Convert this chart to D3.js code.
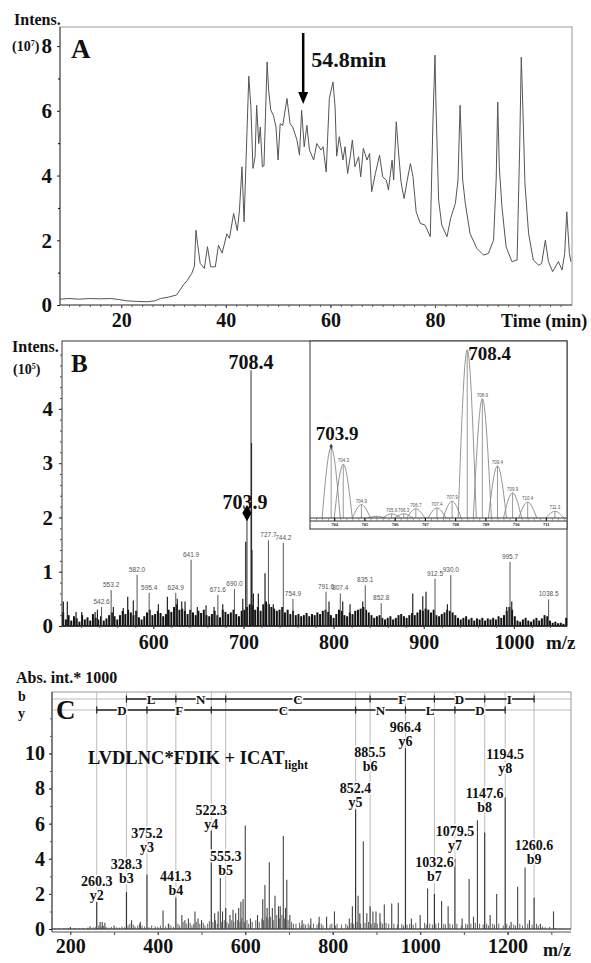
<!DOCTYPE html>
<html>
<head>
<meta charset="utf-8">
<script src="https://cdn.jsdelivr.net/npm/d3@7"></script>
<style>
body { margin: 0; background: #fff; }
svg text { font-family: "Liberation Serif", "Times New Roman", serif; font-weight: bold; fill: #111; }
svg text.tiny { font-family: "Liberation Sans", Arial, sans-serif; font-weight: normal; fill: #555; }
</style>
</head>
<body>
<svg width="591" height="963"></svg>
<script>
// ---------- data ----------

// A: total ion chromatogram, time (min) / intensity (10^7)
var ticTime = [8.3,10,12,14,16,18,19.5,21,23,25,26.5,27.5,29,30.6,31.9,32.6,33.5,34.0,34.3,34.6,35.1,35.9,36.5,37.1,38.0,38.6,39.3,40.2,40.7,41.5,42.2,42.6,43.1,43.5,44.0,44.4,44.8,45.2,45.6,45.9,46.3,46.6,47.0,47.3,47.9,48.2,48.6,49.1,49.6,50.0,50.4,50.9,51.7,52.3,52.8,53.6,54.1,54.5,55.0,55.5,56.0,56.8,57.4,58.2,58.6,59.2,59.8,60.5,60.9,61.2,61.7,62.4,62.8,63.3,63.8,64.2,64.7,65.4,65.8,66.3,67.0,67.5,67.9,68.6,69.4,70.0,70.7,71.1,71.8,72.1,72.6,73.0,73.5,74.1,74.7,75.3,75.8,76.4,77.2,78.1,79.1,79.6,80.0,80.2,80.7,81.3,82.3,83.0,83.9,84.4,84.8,85.3,85.8,86.7,88.0,89.3,90.2,91.2,91.7,92.0,92.3,92.8,93.6,94.7,95.7,96.2,96.5,96.8,97.2,97.9,98.8,99.8,100.4,101.1,101.7,102.5,103.6,104.3,104.8,105.2,105.7,106];
var ticInt = [0.18,0.2,0.18,0.2,0.19,0.2,0.17,0.13,0.11,0.1,0.13,0.2,0.24,0.31,0.62,0.75,0.98,1.2,2.31,1.9,1.29,1.13,1.8,1.18,1.18,1.85,1.6,2.2,2.06,2.83,2.3,2.9,4.27,2.57,5.1,7.07,6.12,4.22,4.58,6.17,4.99,5.5,4.27,4.3,7.51,6.64,6.02,5.86,5.5,4.48,5.6,5.55,6.38,5.6,5.5,5.1,4.63,6.02,4.89,5.55,4.79,4.48,4.99,4.79,4.89,4.11,6.38,6.89,6.12,4.6,5.2,4.48,4.89,4.06,4.58,5.1,4.27,4.58,3.96,4.84,4.48,4.68,3.5,4.06,4.63,3.96,3.86,3.55,4.48,3.86,5.66,4.79,3.81,3.29,3.86,4.37,3.96,2.88,2.52,2.47,2.11,5.6,7.72,6.12,3.24,2.47,2.11,2.68,3.14,3.86,6.17,3.86,3.14,2.21,1.75,1.54,1.59,2.0,3.86,6.27,4.27,3.04,1.8,1.34,1.39,4.89,7.66,6.12,3.76,2.21,1.39,1.23,1.28,2.0,1.34,1.03,1.34,1.08,1.59,2.88,1.59,1.34];
var aXTicks = [20, 40, 60, 80];
var aYTicks = [0, 2, 4, 6, 8];
var markTime = 54.8;

// B: full MS spectrum, m/z / intensity (10^5)
var msMain = [[703.9, 2.08], [708.4, 4.71]];
var msLabeled = [[542.6,.35],[553.2,.66],[582.0,.94],[595.4,.61],[624.9,.61],[641.9,1.22],[671.6,.57],[690.0,.68],[727.7,1.58],[744.2,1.53],[754.9,.5],[791.6,.63],[807.4,.6],[835.1,.75],[852.8,.42],[912.5,.87],[930.0,.94],[995.7,1.18],[1038.5,.49]];
var msOther = [[500.2,.45],[504.6,.45],[514.3,.26],[520.6,.26],[535.4,.26],[538,.3],[555.7,.35],[566.7,.33],[571.6,.54],[577.8,.47],[605.6,.4],[615.6,.54],[626.6,.5],[631.5,.45],[635.2,.45],[648.8,.35],[658.5,.38],[667.4,.35],[677,.4],[699.2,.5],[702.5,1.55],[708.9,3.37],[709.4,1.4],[711,.6],[716.5,.6],[723.9,.97],[728.7,.4],[733.1,.4],[794.9,.45],[810.1,.45],[818.2,.4],[832.3,.45],[887.8,.6],[898.9,.55],[902.5,.63],[926.2,.4],[992,.35],[997.6,.45]];
var msGrass = [[500,.25],[503,.12],[506,.2],[509,.1],[512,.18],[515,.14],[518,.08],[521,.2],[524,.12],[527,.16],[530,.1],[533,.22],[536,.15],[539,.12],[542,.18],[545,.1],[548,.14],[551,.2],[554,.25],[557,.18],[560,.12],[563,.2],[566,.28],[569,.22],[572,.3],[575,.25],[578,.2],[581,.28],[584,.16],[587,.12],[590,.18],[593,.25],[596,.3],[599,.2],[602,.22],[605,.28],[608,.24],[611,.18],[614,.22],[617,.3],[620,.26],[623,.35],[626,.4],[629,.3],[632,.32],[635,.28],[638,.22],[641,.3],[644,.25],[647,.2],[650,.28],[653,.24],[656,.3],[659,.2],[662,.18],[665,.22],[668,.28],[671,.2],[674,.16],[677,.3],[680,.26],[683,.22],[686,.25],[689,.3],[692,.22],[695,.18],[698,.28],[701,.3],[704,.35],[707,.4],[710,.38],[713,.3],[716,.35],[719,.28],[722,.4],[725,.45],[728,.4],[731,.35],[734,.32],[737,.28],[740,.3],[743,.35],[746,.25],[749,.3],[752,.22],[755,.28],[758,.2],[761,.22],[764,.18],[767,.2],[770,.24],[773,.18],[776,.22],[779,.2],[782,.25],[785,.22],[788,.28],[791,.3],[794,.26],[797,.2],[800,.15],[803,.22],[806,.3],[809,.28],[812,.2],[815,.18],[818,.25],[821,.22],[824,.28],[827,.3],[830,.32],[833,.35],[836,.3],[839,.25],[842,.2],[845,.15],[848,.18],[851,.2],[854,.15],[857,.12],[860,.15],[863,.18],[866,.12],[869,.15],[872,.2],[875,.22],[878,.18],[881,.15],[884,.2],[887,.24],[890,.2],[893,.25],[896,.3],[899,.28],[902,.32],[905,.3],[908,.25],[911,.3],[914,.2],[917,.18],[920,.22],[923,.25],[926,.3],[929,.28],[932,.25],[935,.2],[938,.15],[941,.12],[944,.15],[947,.18],[950,.12],[953,.15],[956,.1],[959,.14],[962,.12],[965,.15],[968,.1],[971,.14],[974,.12],[977,.15],[980,.12],[983,.18],[986,.15],[989,.2],[992,.28],[995,.35],[998,.3],[1001,.18],[1004,.1],[1007,.08],[1010,.12],[1013,.15],[1016,.1],[1019,.08],[1022,.12],[1025,.15],[1028,.1],[1031,.14],[1034,.2],[1037,.18],[1040,.1],[1043,.06],[1046,.08],[1049,.05],[1052,.06],[1055,.04],[1058,.15]];
var bXTicks = [600, 700, 800, 900, 1000];
var bYTicks = [0, 1, 2, 3, 4];

// B inset: isotope cluster, m/z / relative intensity (%)
var isoMz = [703.9,704.3,704.9,705.4,705.9,706.3,706.7,707.4,707.9,708.4,708.9,709.4,709.9,710.4,711.3];
var isoInt = [42,32,8,1,2.5,2.5,5.5,6,10,100,71,31,15,9.5,4];
var isoTicks = [704, 705, 706, 707, 708, 709, 710, 711];

// C: MS/MS spectrum, m/z / abs. intensity (x1000)
var ionMz = [260.3,328.3,375.2,441.3,522.3,555.3,852.4,885.5,966.4,1032.6,1079.5,1147.6,1194.5,1260.6];
var ionName = ["y2","b3","y3","b4","y4","b5","y5","b6","y6","b7","y7","b8","y8","b9"];
var ionInt = [1.55,2.1,3.1,1.8,5.6,1.2,6.8,1.3,10.3,2.0,4.0,5.5,7.5,1.8];
var ionLabelAt = [1.55,2.5,4.3,1.8,5.6,2.95,6.85,8.9,10.3,2.6,4.4,6.55,8.8,3.6];
var bLadder = [328.3,441.3,555.3,885.5,1032.6,1147.6,1260.6];
var bResidues = ["L","N","C","F","D","I"];
var yLadder = [260.3,375.2,522.3,852.4,966.4,1079.5,1194.5];
var yResidues = ["D","F","C","N","L","D"];
var msmsOther = [[200,.12],[245,.15],[268,.4],[273,.4],[279,.35],[300,.2],[340,.5],[360,.4],[412,1.05],[425,.3],[455,.8],[462,.5],[470,.6],[485,1.0],[492,.6],[500,.5],[530,.9],[538,1.0],[543,2.9],[548,1.0],[565,.8],[572,1.1],[578,.9],[585,1.2],[590,1.55],[595,1.7],[600,5.9],[612,.6],[628,.8],[640,1.7],[645,2.5],[650,1.2],[655,3.8],[662,1.2],[668,1.9],[676,1.3],[680,1.3],[687,5.3],[692,1.2],[695,2.8],[702,.8],[730,.5],[750,.6],[769,.7],[786,.7],[804,1.0],[838,.6],[845,1.3],[858,1.9],[862,.9],[870,5.0],[878,.9],[892,1.0],[899,1.0],[908,.9],[918,1.4],[935,1.45],[950,1.5],[980,.6],[1000,.8],[1017,2.3],[1049,1.6],[1064,1.3],[1096,.6],[1112,2.85],[1122,.7],[1131,6.2],[1160,.8],[1175,2.0],[1208,.4],[1223,2.4],[1240,3.5],[1250,.5],[1275,.3],[1305,1.0]];
var msmsGrass = [[165,.04],[175,.05],[185,.04],[195,.06],[210,.05],[220,.04],[230,.06],[240,.08],[252,.1],[258,.12],[265,.2],[270,.15],[276,.18],[282,.1],[288,.08],[294,.12],[306,.1],[312,.08],[318,.15],[324,.1],[332,.2],[336,.3],[344,.25],[348,.15],[354,.2],[358,.3],[364,.2],[370,.15],[380,.1],[386,.2],[394,.15],[400,.12],[406,.2],[418,.15],[424,.3],[430,.2],[436,.12],[446,.3],[450,.2],[458,.4],[466,.3],[474,.35],[478,.2],[482,.3],[488,.4],[496,.3],[504,.35],[508,.2],[514,.3],[518,.45],[526,.4],[532,.5],[536,.3],[546,.4],[552,.5],[558,.4],[562,.3],[568,.5],[574,.4],[582,.5],[588,.4],[592,.6],[598,.4],[604,.5],[608,.3],[616,.4],[624,.5],[632,.4],[638,.6],[642,.5],[648,.7],[652,.6],[658,.7],[664,.5],[672,.8],[678,.6],[684,.8],[690,.6],[698,.5],[706,.4],[710,.3],[716,.3],[724,.35],[728,.2],[734,.3],[738,.25],[744,.3],[748,.2],[756,.3],[764,.25],[768,.35],[774,.3],[778,.2],[786,.3],[794,.25],[798,.3],[806,.2],[810,.3],[820,.25],[830,.3],[834,.2],[842,.35],[848,.3],[856,.4],[864,.3],[874,.35],[882,.4],[888,.3],[896,.35],[902,.3],[910,.4],[914,.3],[922,.35],[928,.3],[940,.3],[948,.25],[958,.3],[962,.2],[970,.25],[976,.3],[984,.25],[990,.35],[1010,.35],[1014,.25],[1022,.3],[1028,.25],[1036,.3],[1042,.35],[1054,.3],[1058,.25],[1068,.3],[1074,.25],[1084,.3],[1094,.2],[1104,.3],[1108,.25],[1116,.3],[1126,.35],[1136,.3],[1144,.25],[1152,.3],[1156,.2],[1166,.3],[1170,.25],[1180,.3],[1190,.2],[1198,.3],[1204,.2],[1214,.25],[1218,.2],[1228,.3],[1234,.2],[1246,.3],[1256,.25],[1266,.3],[1270,.2],[1280,.15],[1286,.1],[1296,.12],[1310,.06],[1320,.04]];
var cXTicks = [200, 400, 600, 800, 1000, 1200];
var cYTicks = [0, 2, 4, 6, 8, 10];

// ---------- drawing ----------
var svg = d3.select("svg");
var fmt = d3.format("d");

function styleAxis(g, size) {
    g.attr("font-family", '"Liberation Serif", "Times New Roman", serif')
     .attr("font-size", size)
     .attr("font-weight", "bold");
    g.select(".domain").remove();
    g.selectAll(".tick line").attr("stroke", "#222");
    g.selectAll(".tick text").attr("fill", "#111");
}

function sticks(g, data, x, y, color, width) {
    g.selectAll(null)
      .data(data)
      .enter().append("line")
      .attr("x1", d => x(d[0])).attr("x2", d => x(d[0]))
      .attr("y1", y(0)).attr("y2", d => y(d[1]))
      .attr("stroke", color)
      .attr("stroke-width", width);
}

// ===== panel A =====
var xA = d3.scaleLinear().domain([8.3, 106.2]).range([60, 572]),
    yA = d3.scaleLinear().domain([0, 8.59]).range([305, 27]);

svg.append("rect")
    .attr("x", 60).attr("y", 27).attr("width", 512).attr("height", 278)
    .attr("fill", "none").attr("stroke", "#999");
svg.append("line").attr("x1", 60).attr("x2", 60).attr("y1", 27).attr("y2", 305).attr("stroke", "#444");
svg.append("line").attr("x1", 60).attr("x2", 572).attr("y1", 305).attr("y2", 305).attr("stroke", "#555");

var aLeft = svg.append("g").attr("transform", "translate(60,0)")
    .call(d3.axisLeft(yA).tickValues(aYTicks).tickFormat(fmt).tickSize(3).tickPadding(5));
styleAxis(aLeft, 21);
svg.append("g").attr("transform", "translate(60,0)")
    .call(d3.axisLeft(yA).tickValues([1, 3, 5, 7]).tickSize(2).tickFormat(""))
    .call(g => g.select(".domain").remove());

var aBottom = svg.append("g").attr("transform", "translate(0,305)")
    .call(d3.axisBottom(xA).tickValues(aXTicks).tickFormat(fmt).tickSize(3).tickPadding(5));
styleAxis(aBottom, 20);
svg.append("g").attr("transform", "translate(0,305)")
    .call(d3.axisBottom(xA).tickValues(d3.range(10, 106, 2)).tickSize(2).tickFormat(""))
    .call(g => g.select(".domain").remove())
    .selectAll("line").attr("stroke", "#555");

var ticLine = d3.line()
    .x((d, i) => xA(ticTime[i]))
    .y(d => yA(d));
svg.append("path")
    .datum(ticInt)
    .attr("d", ticLine)
    .attr("fill", "none")
    .attr("stroke", "#555")
    .attr("stroke-width", 1);

// arrow at 54.8 min
var ax = xA(markTime);
svg.append("line").attr("x1", ax).attr("x2", ax).attr("y1", 33).attr("y2", 94)
    .attr("stroke", "#000").attr("stroke-width", 2.5);
svg.append("path")
    .attr("d", "M" + (ax - 5) + ",92L" + (ax + 5) + ",92L" + ax + ",104Z")
    .attr("fill", "#000");
svg.append("text").attr("x", ax + 8).attr("y", 67).style("font-size", "22px").text(markTime + "min");

svg.append("text").attr("x", 71).attr("y", 58).style("font-size", "27px").text("A");
svg.append("text").attr("x", 14).attr("y", 25).style("font-size", "16px").text("Intens.");
var a10 = svg.append("text").attr("x", 12).attr("y", 51).style("font-size", "14px");
a10.append("tspan").text("(10");
a10.append("tspan").attr("dy", -5).style("font-size", "8px").text("7");
a10.append("tspan").attr("dy", 5).text(")");
svg.append("text").attr("x", 501).attr("y", 327).style("font-size", "18px").text("Time (min)");

// ===== panel B =====
var xB = d3.scaleLinear().domain([498.7, 1058.9]).range([62, 567]),
    yB = d3.scaleLinear().domain([0, 5.25]).range([626, 341]);

svg.append("rect")
    .attr("x", 62).attr("y", 341).attr("width", 505).attr("height", 285)
    .attr("fill", "none").attr("stroke", "#333");

var gB = svg.append("g");
sticks(gB, msGrass, xB, yB, "#111", 2);
sticks(gB, msOther, xB, yB, "#222", 1.2);
sticks(gB, msLabeled, xB, yB, "#555", 1);
sticks(gB, msMain, xB, yB, "#333", 1);

gB.selectAll(null)
  .data(msLabeled)
  .enter().append("text")
  .attr("class", "tiny")
  .attr("x", d => xB(d[0]))
  .attr("y", d => yB(d[1]) - 3)
  .attr("text-anchor", "middle")
  .style("font-size", "6.5px")
  .text(d => d[0].toFixed(1));

svg.append("path")
    .attr("d", d3.symbol().type(d3.symbolDiamond).size(75)())
    .attr("transform", "translate(" + xB(msMain[0][0]) + "," + yB(msMain[0][1]) + ")")
    .attr("fill", "#000");
svg.append("text").attr("x", xB(msMain[0][0]) - 2).attr("y", yB(msMain[0][1]) - 4)
    .attr("text-anchor", "middle").style("font-size", "20px").text(msMain[0][0].toFixed(1));
svg.append("text").attr("x", xB(msMain[1][0])).attr("y", yB(msMain[1][1]) - 1)
    .attr("text-anchor", "middle").style("font-size", "20px").text(msMain[1][0].toFixed(1));

svg.append("line").attr("x1", 62).attr("x2", 567).attr("y1", 626).attr("y2", 626).attr("stroke", "#222").attr("stroke-width", 1.5);

var bLeft = svg.append("g").attr("transform", "translate(62,0)")
    .call(d3.axisLeft(yB).tickValues(bYTicks).tickFormat(fmt).tickSize(3).tickPadding(6));
styleAxis(bLeft, 21);
svg.append("g").attr("transform", "translate(62,0)")
    .call(d3.axisLeft(yB).tickValues(d3.range(0.2, 5.2, 0.2)).tickSize(2).tickFormat(""))
    .call(g => g.select(".domain").remove())
    .selectAll("line").attr("stroke", "#555");
var bBottom = svg.append("g").attr("transform", "translate(0,626)")
    .call(d3.axisBottom(xB).tickValues(bXTicks).tickFormat(fmt).tickSize(3).tickPadding(6));
styleAxis(bBottom, 20);
svg.append("g").attr("transform", "translate(0,626)")
    .call(d3.axisBottom(xB).tickValues(d3.range(520, 1060, 20)).tickSize(2).tickFormat(""))
    .call(g => g.select(".domain").remove())
    .selectAll("line").attr("stroke", "#555");

svg.append("text").attr("x", 71).attr("y", 372).style("font-size", "25px").text("B");
svg.append("text").attr("x", 12).attr("y", 352).style("font-size", "16px").text("Intens.");
var b10 = svg.append("text").attr("x", 13).attr("y", 374).style("font-size", "14px");
b10.append("tspan").text("(10");
b10.append("tspan").attr("dy", -5).style("font-size", "8px").text("5");
b10.append("tspan").attr("dy", 5).text(")");
svg.append("text").attr("x", 546).attr("y", 649).style("font-size", "19px").text("m/z");

// ----- inset -----
var xI = d3.scaleLinear().domain([703.2, 711.7]).range([310, 567]),
    yI = d3.scaleLinear().domain([0, 100]).range([518, 350]);

svg.append("rect")
    .attr("x", 310).attr("y", 341).attr("width", 257).attr("height", 188)
    .attr("fill", "#fff").attr("stroke", "#333");

var peakShape = d3.line()
    .x(d => xI(d[0]))
    .y(d => yI(d[1]))
    .curve(d3.curveMonotoneX);
var gI = svg.append("g");
isoMz.forEach(function(m, i) {
    gI.append("path")
      .datum([[m - 0.3, 0], [m, isoInt[i]], [m + 0.3, 0]])
      .attr("d", peakShape)
      .attr("fill", "none")
      .attr("stroke", "#888")
      .attr("stroke-width", 0.9);
    gI.append("line")
      .attr("x1", xI(m)).attr("x2", xI(m))
      .attr("y1", yI(0)).attr("y2", yI(isoInt[i]))
      .attr("stroke", "#999").attr("stroke-width", 1);
    if (m !== 703.9 && m !== 708.4 && m !== 705.4) {
        gI.append("text")
          .attr("class", "tiny")
          .attr("x", xI(m)).attr("y", yI(isoInt[i]) - 2)
          .attr("text-anchor", "middle")
          .style("font-size", "4.5px")
          .text(m.toFixed(1));
    }
});
svg.append("path")
    .attr("d", d3.symbol().type(d3.symbolDiamond).size(10)())
    .attr("transform", "translate(" + xI(703.9) + "," + (yI(42) - 1) + ")")
    .attr("fill", "#444");
svg.append("text").attr("x", xI(703.9) + 6).attr("y", yI(42) - 7)
    .attr("text-anchor", "middle").style("font-size", "19px").text("703.9");
svg.append("text").attr("x", xI(708.4) + 1).attr("y", yI(100) + 10)
    .style("font-size", "19px").text("708.4");

svg.append("line").attr("x1", 310).attr("x2", 567).attr("y1", 518).attr("y2", 518).attr("stroke", "#333");
svg.append("line").attr("x1", 310).attr("x2", 567).attr("y1", 521).attr("y2", 521).attr("stroke", "#333");
svg.append("g").attr("transform", "translate(0,518)")
    .call(d3.axisBottom(xI).tickValues(d3.range(703.4, 711.7, 0.2)).tickSize(3).tickFormat(""))
    .call(g => g.select(".domain").remove())
    .selectAll("line").attr("stroke", "#666").attr("stroke-width", 0.6);
svg.append("g").attr("transform", "translate(0,518)")
    .call(d3.axisBottom(xI).tickValues(isoTicks).tickFormat(fmt).tickSize(3).tickPadding(2))
    .call(g => g.select(".domain").remove())
    .call(g => g.selectAll("text").attr("font-family", "Liberation Sans").attr("font-size", 4.5).attr("fill", "#444"));

// ===== panel C =====
var xC = d3.scaleLinear().domain([158, 1345]).range([52, 571]),
    yC = d3.scaleLinear().domain([0, 13.5]).range([929, 692]);
var bRow = 699, yRow = 710;

svg.append("rect")
    .attr("x", 52).attr("y", 692).attr("width", 519).attr("height", 237)
    .attr("fill", "none").attr("stroke", "#999");
[bRow, yRow].forEach(function(r) {
    svg.append("line").attr("x1", 52).attr("x2", 571).attr("y1", r).attr("y2", r)
       .attr("stroke", "#bbb");
});

var gC = svg.append("g");
// guide lines for the annotated ions
gC.selectAll(null)
  .data(ionMz)
  .enter().append("line")
  .attr("x1", d => xC(d)).attr("x2", d => xC(d))
  .attr("y1", 692).attr("y2", (d, i) => yC(ionInt[i]))
  .attr("stroke", "#bbb").attr("stroke-width", 1);

sticks(gC, msmsGrass, xC, yC, "#666", 1);
sticks(gC, msmsOther, xC, yC, "#444", 1.1);
sticks(gC, ionMz.map((m, i) => [m, ionInt[i]]), xC, yC, "#333", 1.2);

// ion labels
var ionLab = gC.selectAll(".ionlab")
  .data(ionMz)
  .enter().append("g")
  .attr("class", "ionlab")
  .attr("transform", (d, i) => "translate(" + xC(d) + "," + yC(ionLabelAt[i]) + ")");
ionLab.append("text")
  .attr("y", -16)
  .attr("text-anchor", "middle")
  .style("font-size", "14px")
  .style("stroke", "#fff").style("stroke-width", 3).style("paint-order", "stroke")
  .text(d => d.toFixed(1));
ionLab.append("text")
  .attr("y", -2)
  .attr("text-anchor", "middle")
  .style("font-size", "14px")
  .style("stroke", "#fff").style("stroke-width", 3).style("paint-order", "stroke")
  .text((d, i) => ionName[i]);

// fragment ladders
function ladder(pos, residues, row) {
    var g = svg.append("g");
    g.append("line")
      .attr("x1", xC(pos[0])).attr("x2", xC(pos[pos.length - 1]))
      .attr("y1", row).attr("y2", row)
      .attr("stroke", "#222").attr("stroke-width", 1.6);
    g.selectAll(null).data(pos).enter().append("line")
      .attr("x1", d => xC(d)).attr("x2", d => xC(d))
      .attr("y1", row - 3.5).attr("y2", row + 3.5)
      .attr("stroke", "#222").attr("stroke-width", 1.2);
    g.selectAll(null).data(residues).enter().append("text")
      .attr("x", (d, i) => (xC(pos[i]) + xC(pos[i + 1])) / 2)
      .attr("y", row + 4.5)
      .attr("text-anchor", "middle")
      .style("font-size", "13px")
      .style("stroke", "#fff").style("stroke-width", 3).style("paint-order", "stroke")
      .text(d => d);
}
ladder(bLadder, bResidues, bRow);
ladder(yLadder, yResidues, yRow);

svg.append("line").attr("x1", 52).attr("x2", 571).attr("y1", 929).attr("y2", 929).attr("stroke", "#333").attr("stroke-width", 1.2);
svg.append("line").attr("x1", 52).attr("x2", 571).attr("y1", 932).attr("y2", 932).attr("stroke", "#555").attr("stroke-width", 1);
svg.append("line").attr("x1", 52).attr("x2", 52).attr("y1", 692).attr("y2", 932).attr("stroke", "#333");

var cLeft = svg.append("g").attr("transform", "translate(52,0)")
    .call(d3.axisLeft(yC).tickValues(cYTicks).tickFormat(fmt).tickSize(3).tickPadding(4));
styleAxis(cLeft, 20);
svg.append("g").attr("transform", "translate(52,0)")
    .call(d3.axisLeft(yC).tickValues(d3.range(1, 13, 1)).tickSize(2).tickFormat(""))
    .call(g => g.select(".domain").remove())
    .selectAll("line").attr("stroke", "#555");
var cBottom = svg.append("g").attr("transform", "translate(0,932)")
    .call(d3.axisBottom(xC).tickValues(cXTicks).tickFormat(fmt).tickSize(3).tickPadding(4));
styleAxis(cBottom, 20);
svg.append("g").attr("transform", "translate(0,932)")
    .call(d3.axisBottom(xC).tickValues(d3.range(300, 1345, 100)).tickSize(3).tickFormat(""))
    .call(g => g.select(".domain").remove())
    .selectAll("line").attr("stroke", "#555");

svg.append("text").attr("x", 16).attr("y", 683).style("font-size", "16px").text("Abs. int.* 1000");
svg.append("text").attr("x", 18).attr("y", 701).style("font-size", "14px").text("b");
svg.append("text").attr("x", 18).attr("y", 718).style("font-size", "14px").text("y");
svg.append("text").attr("x", 56).attr("y", 719).style("font-size", "27px").text("C");
var seq = svg.append("text").attr("x", 88).attr("y", 764).style("font-size", "18.5px");
seq.append("tspan").text("LVDLNC*FDIK + ICAT");
seq.append("tspan").attr("dy", 5).style("font-size", "12px").text("light");
svg.append("text").attr("x", 543).attr("y", 956).style("font-size", "18px").text("m/z");
</script>
</body>
</html>
